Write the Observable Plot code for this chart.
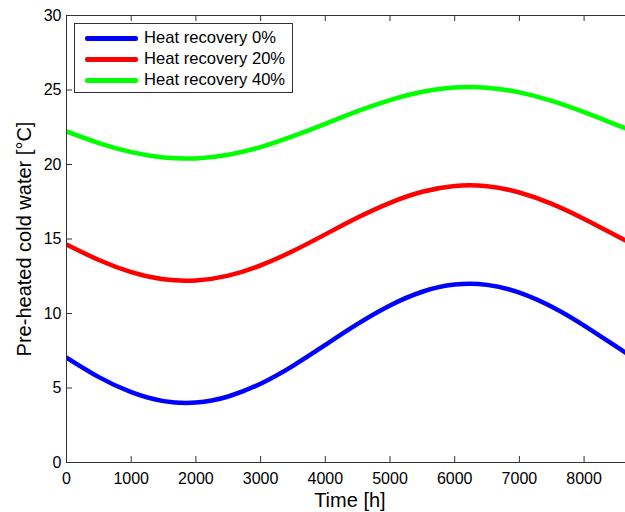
<!DOCTYPE html>
<html>
<head>
<meta charset="utf-8">
<script src="https://cdn.jsdelivr.net/npm/d3@7"></script>
<script src="https://cdn.jsdelivr.net/npm/@observablehq/plot@0.6"></script>
<style>
  html, body { margin: 0; padding: 0; background: #fff; }
  #wrap { position: relative; width: 625px; height: 512px; font-family: "Liberation Sans", Arial, sans-serif; }
  #legend { position: absolute; left: 74px; top: 23px; width: 219px; height: 70px; border: 1px solid #333; background: #fff; box-sizing: border-box; }
  .item { position: absolute; left: 0; height: 20px; width: 100%; }
  .swatch { position: absolute; left: 10px; width: 53px; height: 5px; top: 8px; border-radius: 2px; }
  .lab { position: absolute; left: 69px; top: 0; font-size: 16.6px; line-height: 20px; color: #000; white-space: nowrap; }
</style>
</head>
<body>
<div id="wrap"></div>
<script>
const hours = [0, 500, 1000, 1500, 2000, 2500, 3000, 3500, 4000, 4500, 5000, 5500, 6000, 6500, 7000, 7500, 8000, 8500, 8760];
const recovery0  = [7.04, 5.73, 4.72, 4.12, 4.02, 4.43, 5.29, 6.49, 7.89, 9.30, 10.54, 11.46, 11.94, 11.92, 11.40, 10.45, 9.19, 7.77, 7.04];
const recovery20 = [14.63, 13.59, 12.78, 12.30, 12.22, 12.54, 13.23, 14.19, 15.31, 16.44, 17.43, 18.17, 18.56, 18.54, 18.12, 17.36, 16.35, 15.22, 14.63];
const recovery40 = [22.22, 21.44, 20.83, 20.47, 20.41, 20.66, 21.17, 21.90, 22.73, 23.58, 24.32, 24.88, 25.17, 25.15, 24.84, 24.27, 23.51, 22.66, 22.22];
const seriesNames = ["Heat recovery 0%", "Heat recovery 20%", "Heat recovery 40%"];
const seriesColors = ["#0000ff", "#ff0000", "#00ff00"];
const xTicks = [0, 1000, 2000, 3000, 4000, 5000, 6000, 7000, 8000];
const yTicks = [0, 5, 10, 15, 20, 25, 30];
const xLabel = "Time [h]";
const yLabel = "Pre-heated cold water [°C]";

const seriesValues = [recovery0, recovery20, recovery40];
const rows = [];
seriesValues.forEach((vals, si) => {
  vals.forEach((v, i) => rows.push({t: hours[i], v, s: seriesNames[si]}));
});

const W = 625, H = 512, mL = 66, mT = 15, mB = 50, mR = 0;
const fw = W - mL - mR, fh = H - mT - mB;
const font = "'Liberation Sans', Arial, sans-serif";

const chart = Plot.plot({
  width: W, height: H,
  marginLeft: mL, marginTop: mT, marginBottom: mB, marginRight: mR,
  style: {fontFamily: font, background: "#fff", color: "#000"},
  x: {domain: [0, 8640], axis: null},
  y: {domain: [0, 30], axis: null},
  color: {domain: seriesNames, range: seriesColors},
  marks: [
    Plot.line(rows, {x: "t", y: "v", z: "s", stroke: "s", strokeWidth: 4.5, curve: "natural", clip: true}),
    Plot.ruleX([0], {stroke: "#333", strokeWidth: 1}),
    Plot.ruleY([0, 30], {stroke: "#333", strokeWidth: 1}),
    Plot.tickX(xTicks, {x: d => d, insetTop: fh - 6, stroke: "#333"}),
    Plot.tickX(xTicks, {x: d => d, insetBottom: fh - 6, stroke: "#333"}),
    Plot.tickY(yTicks, {y: d => d, insetRight: fw - 6, stroke: "#333"}),
    Plot.text(xTicks, {x: d => d, text: d => String(d), frameAnchor: "bottom", dy: 21, lineAnchor: "bottom", textAnchor: "middle", fontSize: 16, fill: "#000"}),
    Plot.text(yTicks, {y: d => d, text: d => String(d), frameAnchor: "left", dx: -5, textAnchor: "end", lineAnchor: "middle", fontSize: 16, fill: "#000"}),
    Plot.text([xLabel], {x: 8760 / 2, text: d => d, frameAnchor: "bottom", dy: 44, lineAnchor: "bottom", textAnchor: "middle", fontSize: 20, fill: "#000"}),
    Plot.text([yLabel], {text: d => d, frameAnchor: "left", dx: -36, rotate: -90, lineAnchor: "bottom", textAnchor: "middle", fontSize: 20, fill: "#000"})
  ]
});

const wrap = document.getElementById("wrap");
wrap.appendChild(chart);

const legend = document.createElement("div");
legend.id = "legend";
seriesNames.forEach((name, i) => {
  const it = document.createElement("div");
  it.className = "item";
  it.style.top = (4 + i * 21) + "px";
  const sw = document.createElement("div");
  sw.className = "swatch";
  sw.style.background = seriesColors[i];
  const lb = document.createElement("div");
  lb.className = "lab";
  lb.textContent = name;
  it.appendChild(sw);
  it.appendChild(lb);
  legend.appendChild(it);
});
wrap.appendChild(legend);
</script>
</body>
</html>
